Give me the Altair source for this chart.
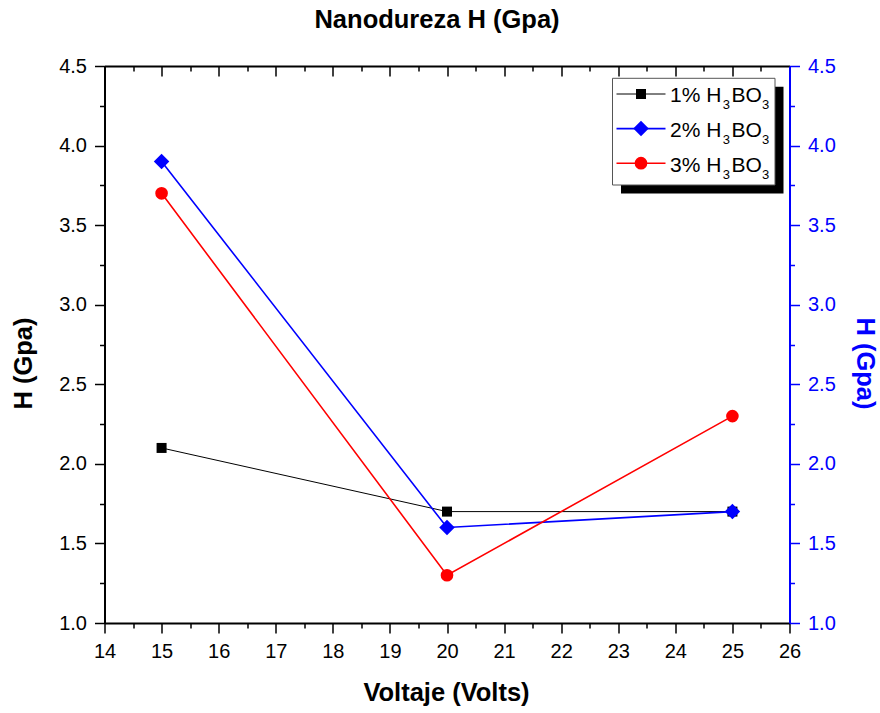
import altair as alt
import pandas as pd

# Hardness H (GPa) measured at each applied voltage, one series per H3BO3 concentration
voltage = [15, 20, 25]
hardness_1pct = [2.1, 1.7, 1.7]
hardness_2pct = [3.9, 1.6, 1.7]
hardness_3pct = [3.7, 1.3, 2.3]

series_labels = ["1%", "2%", "3%"]
series_colors = ["#000000", "#0000FF", "#FF0000"]
series_shapes = ["square", "diamond", "circle"]
marker_sizes = [100, 240, 160]
line_widths = [1.0, 1.6, 1.6]

x_ticks = [14, 14.5, 15, 15.5, 16, 16.5, 17, 17.5, 18, 18.5, 19, 19.5, 20,
           20.5, 21, 21.5, 22, 22.5, 23, 23.5, 24, 24.5, 25, 25.5, 26]
y_ticks = [1.0, 1.25, 1.5, 1.75, 2.0, 2.25, 2.5, 2.75, 3.0, 3.25, 3.5,
           3.75, 4.0, 4.25, 4.5]

FONT = "Liberation Sans"
W, H = 685, 557
BLUE = "#0000FF"
TITLE_FS = 25.5

frames = []
for lab, vals in zip(series_labels, [hardness_1pct, hardness_2pct, hardness_3pct]):
    frames.append(pd.DataFrame({"voltage": voltage, "H": vals, "series": lab}))
df = pd.concat(frames, ignore_index=True)

x_scale = alt.Scale(domain=[14, 26], nice=False, zero=False)
y_scale = alt.Scale(domain=[1.0, 4.5], nice=False, zero=False)

major_x = "datum.value % 1 === 0"
major_y = "datum.value % 0.5 === 0"

common = dict(grid=False, domainWidth=2, tickWidth=1.5, labelFont=FONT,
              labelFontSize=20, labelPadding=8, labelOverlap=False,
              labelFlush=False, titleFont=FONT, titleFontSize=TITLE_FS,
              titleFontWeight="bold", titleBaseline="alphabetic",
              titleAlign="center")

x_bottom = alt.Axis(
    orient="bottom", values=x_ticks,
    labelExpr=f"{major_x} ? format(datum.value, 'd') : ''",
    tickSize={"condition": {"test": major_x, "value": 10}, "value": 5},
    domainColor="black", tickColor="black", labelColor="black",
    title="Voltaje (Volts)", titleColor="black", titleX=W / 2 - 1, titleY=77,
    **common)

y_left = alt.Axis(
    orient="left", values=y_ticks,
    labelExpr=f"{major_y} ? format(datum.value, '.1f') : ''",
    tickSize={"condition": {"test": major_y, "value": 10}, "value": 5},
    domainColor="black", tickColor="black", labelColor="black",
    title="H (Gpa)", titleColor="black", titleAngle=270, titleX=-73, titleY=297,
    **common)

x_top = alt.Axis(
    orient="top", values=x_ticks, labels=False,
    tickSize={"expr": f"{major_x} ? -10 : -5"},
    domainColor="black", tickColor="black", title=None,
    grid=False, domainWidth=2, tickWidth=1.5)

y_right = alt.Axis(
    orient="right", values=y_ticks,
    labelExpr=f"{major_y} ? format(datum.value, '.1f') : ''",
    tickSize={"condition": {"test": major_y, "value": 10}, "value": 5},
    domainColor=BLUE, tickColor=BLUE, labelColor=BLUE,
    title="H (Gpa)", titleColor=BLUE, titleAngle=90, titleX=67, titleY=297,
    **common)

# Data series: connecting line plus markers, drawn black, blue, red
main_layers = []
for lab, col, shp, sz, lw in zip(series_labels, series_colors, series_shapes,
                                 marker_sizes, line_widths):
    sub = df[df["series"] == lab]
    enc = dict(x=alt.X("voltage:Q", scale=x_scale, axis=x_bottom),
               y=alt.Y("H:Q", scale=y_scale, axis=y_left))
    main_layers.append(alt.Chart(sub).mark_line(color=col, strokeWidth=lw).encode(**enc))
    main_layers.append(
        alt.Chart(sub).mark_point(shape=shp, size=sz, filled=True, color=col,
                                  opacity=1, strokeWidth=0).encode(**enc))
main = alt.layer(*main_layers)

# Invisible layer carrying the mirrored top and right axes
mirror = alt.Chart(df).mark_point(opacity=0).encode(
    x=alt.X("voltage:Q", scale=x_scale, axis=x_top),
    y=alt.Y("H:Q", scale=y_scale, axis=y_right))

# Legend box with drop shadow
one = alt.Data(values=[{"k": 0}])
box_x0, box_x1, box_y0, box_y1 = 508, 670.5, 12.3, 119
shadow_off = 8.5
legend_layers = [
    alt.Chart(one).mark_rect(color="black").encode(
        x=alt.value(box_x0 + shadow_off), x2=alt.value(box_x1 + shadow_off),
        y=alt.value(box_y0 + shadow_off), y2=alt.value(box_y1 + shadow_off)),
    alt.Chart(one).mark_rect(fill="white", stroke="#555555", strokeWidth=1).encode(
        x=alt.value(box_x0), x2=alt.value(box_x1),
        y=alt.value(box_y0), y2=alt.value(box_y1)),
]

row_y = [28, 62.6, 97.2]
line_x0, line_x1, marker_x = 512, 561, 536.5
text_x = 565.5
main_fs, sub_fs = 21, 13
# advance widths (em) of the glyphs used in the entry labels
adv = {"1": 0.556, "2": 0.556, "3": 0.556, "%": 0.889, " ": 0.278,
       "H": 0.722, "B": 0.667, "O": 0.778}


def width(s, fs):
    return sum(adv[c] for c in s) * fs


for lab, col, shp, sz, lw, cy in zip(series_labels, series_colors, series_shapes,
                                     marker_sizes, line_widths, row_y):
    legend_layers.append(
        alt.Chart(one).mark_rule(color=col, strokeWidth=lw).encode(
            x=alt.value(line_x0), x2=alt.value(line_x1), y=alt.value(cy)))
    legend_layers.append(
        alt.Chart(one).mark_point(shape=shp, size=sz, filled=True, color=col,
                                  opacity=1, strokeWidth=0).encode(
            x=alt.value(marker_x), y=alt.value(cy)))
    pieces = [(f"{lab} H", main_fs, 0), ("3", sub_fs, 7), ("BO", main_fs, 0), ("3", sub_fs, 7)]
    x = text_x
    for txt, fs, drop in pieces:
        legend_layers.append(
            alt.Chart(one).mark_text(text=txt, font=FONT, fontSize=fs, color="black",
                                     align="left", baseline="alphabetic").encode(
                x=alt.value(x), y=alt.value(cy + 8.3 + drop)))
        x += width(txt, fs) + (1.5 if fs == sub_fs or txt.endswith("H") else 0)

chart = alt.layer(main, mirror, *legend_layers).resolve_scale(
    x="independent", y="independent"
).properties(
    width=W, height=H,
    autosize="none",
    padding={"left": 104.5, "top": 66, "right": 880 - 104.5 - W, "bottom": 713 - 66 - H},
    background="white",
    title=alt.TitleParams("Nanodureza H (Gpa)", font=FONT, fontSize=TITLE_FS,
                          fontWeight="bold", color="black", anchor="middle",
                          frame="group", offset=23, dx=-10),
).configure_view(strokeWidth=0)

chart.save("out.html", embed_options={"renderer": "svg", "actions": False})
